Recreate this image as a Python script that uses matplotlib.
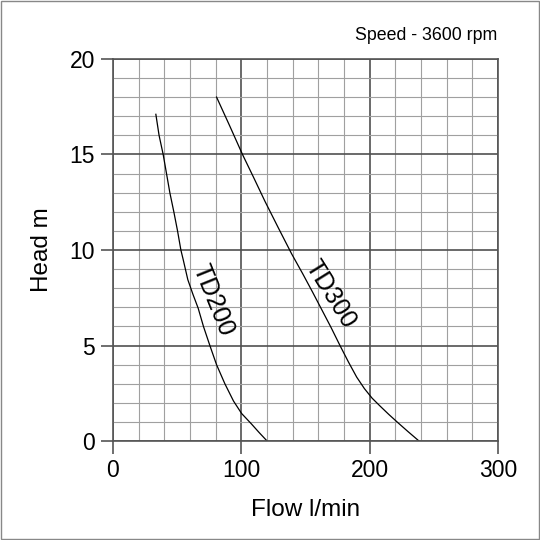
import matplotlib
matplotlib.use("Agg")
import matplotlib.pyplot as plt
from matplotlib.patches import Rectangle
import numpy as np

plt.rcParams['font.family'] = ['Liberation Sans', 'DejaVu Sans']

# pump curves (flow l/min, head m)
td200_flow = [33.5, 36, 39.2, 41.8, 44.4, 47.5, 50.4, 53, 54.8, 58.4, 62.3, 66.5, 70.6, 75.6,
              80.8, 87.3, 94, 100.3, 108, 114, 120.3]
td200_head = [17.1, 16.0, 15.0, 14.0, 13.0, 12.0, 11.0, 10.0, 9.5, 8.45, 7.7, 6.95, 6.0, 5.0,
              4.0, 3.0, 2.1, 1.45, 0.9, 0.45, 0.0]
td300_flow = [80.8, 91, 101, 110, 118.5, 129, 139.3, 148, 155.6, 163, 170, 177, 183.5,
              190, 196, 202, 208, 215, 222.4, 230, 238.7]
td300_head = [18.0, 16.5, 15.0, 13.75, 12.55, 11.15, 9.8, 8.75, 7.8, 6.85, 5.95, 5.0, 4.15,
              3.35, 2.75, 2.25, 1.85, 1.4, 0.95, 0.5, 0.0]

x_ticks = [0, 100, 200, 300]
y_ticks = [0, 5, 10, 15, 20]

fig = plt.figure(figsize=(5.4, 5.4), dpi=100)
ax = fig.add_axes([0.209, 0.183, 0.713, 0.708])

ax.set_xlim(0, 300)
ax.set_ylim(0, 20)
ax.set_xticks(x_ticks)
ax.set_yticks(y_ticks)
ax.set_xticks(np.arange(0, 301, 20), minor=True)
ax.set_yticks(np.arange(0, 21, 1), minor=True)
ax.grid(which='minor', color='#a0a0a0', linewidth=0.8)
ax.grid(which='major', color='#505050', linewidth=1.2)
ax.set_axisbelow(True)
ax.tick_params(which='major', length=9, width=1.2, color='#555555',
               labelsize=16.5, pad=4)
ax.tick_params(which='minor', length=0)
for s in ax.spines.values():
    s.set_color('#555555')
    s.set_linewidth(1.2)

ax.plot(td200_flow, td200_head, color='black', linewidth=0.9)
ax.plot(td300_flow, td300_head, color='black', linewidth=0.9)

ax.text(78, 7.4, 'TD200', rotation=-68, ha='center', va='center', fontsize=18,
        rotation_mode='anchor')
ax.text(169.5, 7.7, 'TD300', rotation=-58, ha='center', va='center', fontsize=18,
        rotation_mode='anchor')

ax.set_xlabel('Flow l/min', fontsize=17.5, labelpad=12)
ax.set_ylabel('Head m', fontsize=17.5, labelpad=12)

fig.text(0.92, 0.935, 'Speed - 3600 rpm', ha='right', va='center', fontsize=12.8)

fig.patches.append(Rectangle((0.002, 0.002), 0.996, 0.996, transform=fig.transFigure,
                             fill=False, edgecolor='#888888', linewidth=1))

fig.savefig('out.png', dpi=100)
